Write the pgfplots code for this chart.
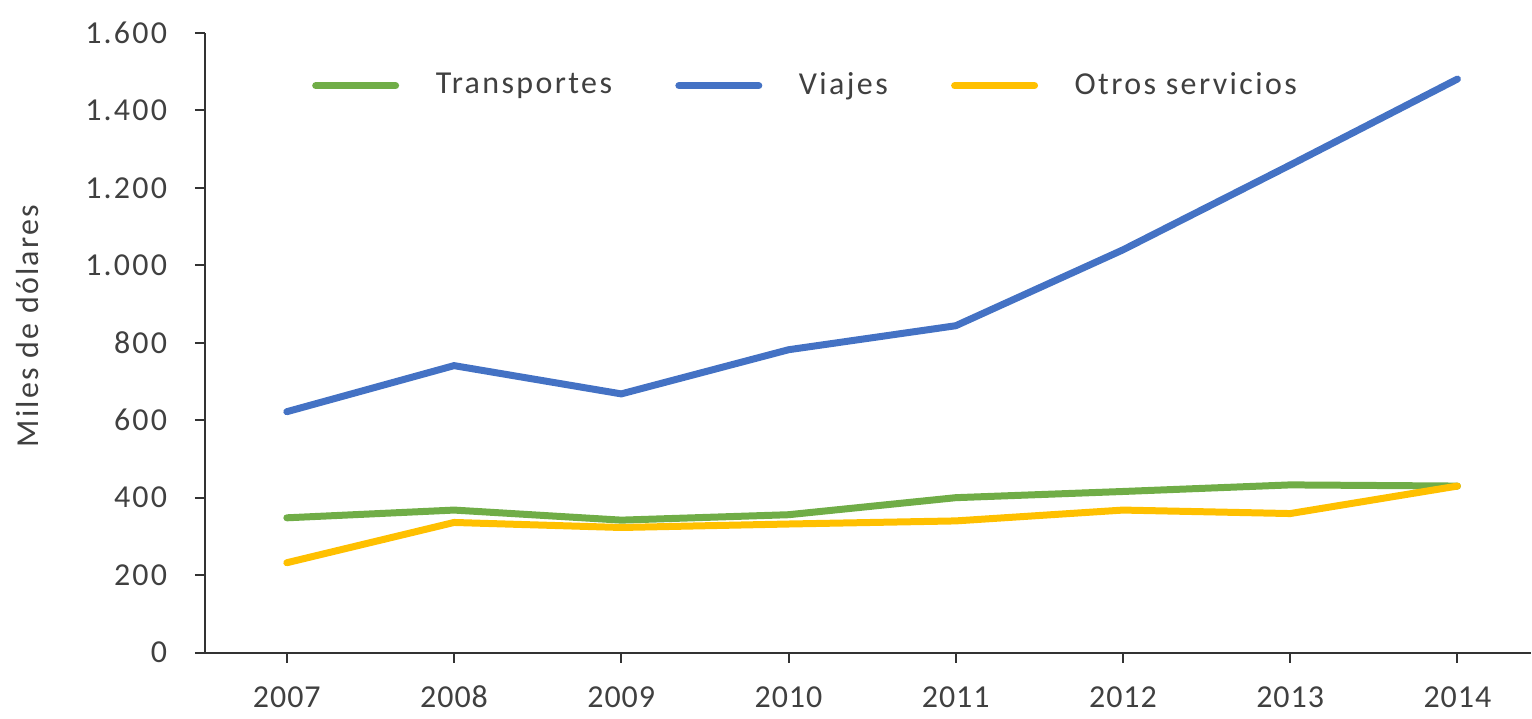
\documentclass[border=0pt]{standalone}
\usepackage{pgfplots}
\pgfplotsset{compat=1.18}
\usepackage{fontspec}
\setmainfont{Carlito}
\definecolor{cgreen}{HTML}{70AD47}
\definecolor{cblue}{HTML}{4472C4}
\definecolor{cyellow}{HTML}{FFC000}
\definecolor{ctext}{HTML}{404040}
\begin{document}
\begin{tikzpicture}
\begin{axis}[
  scale only axis,
  width=398.1pt, height=186pt,
  xmin=-0.49, xmax=7.44,
  ymin=0, ymax=1600,
  axis x line*=bottom, axis y line*=left,
  axis line style={line width=0.6pt, black!80},
  xtick={0,1,2,3,4,5,6,7},
  xticklabels={2007,2008,2009,2010,2011,2012,2013,2014},
  ytick={0,200,400,600,800,1000,1200,1400,1600},
  tick style={line width=0.6pt, black!80},
  tick align=outside,
  major tick length=3pt,
  /pgf/number format/.cd, 1000 sep={.}, assume math mode=true,
  /pgfplots/.cd,
  ticklabel style={text=ctext},
  yticklabel style={xshift=-4.8pt, font=\fontsize{9.6}{11}\selectfont\addfontfeature{LetterSpace=7}},
  xticklabel style={yshift=-3pt, text height=7pt, text depth=0pt, font=\fontsize{9.6}{11}\selectfont\addfontfeature{LetterSpace=3}},
  ylabel={Miles de dólares},
  every axis y label/.style={at={(rel axis cs:-0.134,0.527)}, rotate=90, anchor=center,
    font=\fontsize{9.6}{11}\selectfont\addfontfeature{LetterSpace=7}, text=ctext},
  clip=false,
  legend columns=3,
  legend style={draw=none, fill=none, at={(rel axis cs:0.4547,0.915)}, anchor=center,
    font=\fontsize{9.6}{11}\selectfont\addfontfeature{LetterSpace=7.5}, text=ctext,
    /tikz/every even column/.append style={column sep=17pt}},
  legend image code/.code={\draw[#1] (0pt,0pt) -- (24pt,0pt);},
  legend cell align=left,
]
\addplot[cgreen, line width=2.1pt, line join=round, line cap=round] coordinates {
 (0,348) (1,368) (2,342) (3,356) (4,400) (5,416) (6,433) (7,430)};
\addlegendentry{\hspace{9pt}Transportes}
\addplot[cblue, line width=2.1pt, line join=round, line cap=round] coordinates {
 (0,622) (1,741) (2,668) (3,782) (4,844) (5,1040) (6,1259) (7,1481)};
\addlegendentry{\hspace{9pt}Viajes}
\addplot[cyellow, line width=2.1pt, line join=round, line cap=round] coordinates {
 (0,232) (1,336) (2,323) (3,332) (4,340) (5,368) (6,359) (7,430)};
\addlegendentry{\hspace{9pt}Otros servicios}
\path (rel axis cs:-0.1545,1.0532) rectangle (rel axis cs:1.0,-0.1016);
\end{axis}
\end{tikzpicture}
\end{document}
